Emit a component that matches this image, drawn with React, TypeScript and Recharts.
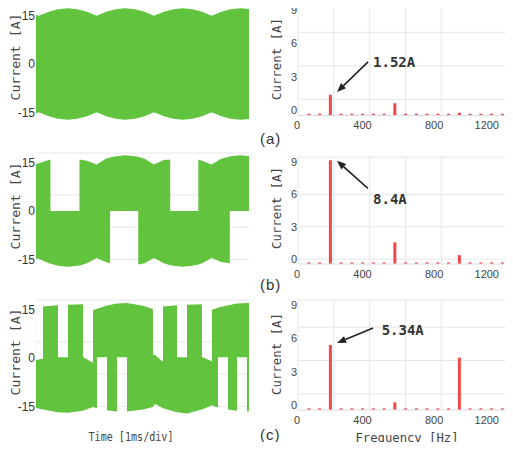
import React from 'react';
import {
  AreaChart,
  Area,
  ComposedChart,
  Bar,
  XAxis,
  YAxis,
  CartesianGrid,
  ReferenceLine,
  ReferenceDot,
} from 'recharts';

const GREEN = '#62c43e';
const RED = '#ee4a4a';
const GRID = '#e6e6e6';
const MONO = '"DejaVu Sans Mono", monospace';
const SANS = '"Liberation Sans", Arial, sans-serif';

// phase current: time [ms], lower envelope [A], upper envelope [A]
const waveA = [
  [0, -15.3, 15.3], [0.07, -15, 15], [0.3, -16.2, 16.2], [0.52, -17, 17], [0.745, -17.3, 17.3],
  [0.97, -17, 17], [1.2, -16.2, 16.2], [1.42, -15, 15], [1.65, -16.2, 16.2], [1.87, -17, 17],
  [2.095, -17.3, 17.3], [2.32, -17, 17], [2.55, -16.2, 16.2], [2.77, -15, 15], [3.0, -16.2, 16.2],
  [3.22, -17, 17], [3.445, -17.3, 17.3], [3.67, -17, 17], [3.9, -16.2, 16.2], [4.12, -15, 15],
  [4.35, -16.2, 16.2], [4.57, -17, 17], [4.795, -17.3, 17.3], [5.0, -17.1, 17.1],
];

const waveB = [
  [0, -14.8, 14.6], [0.07, -14.8, 14.8], [0.3, -16.2, 15.8], [0.34, -16.4, 16.0],
  [0.34, -16.4, 0], [0.52, -17, 0], [0.745, -17.3, 0], [0.97, -17, 0], [1.02, -16.9, 0],
  [1.02, -16.9, 16.0], [1.2, -16.2, 15.6], [1.42, -14.6, 14.4], [1.64, -15.8, 16.2], [1.74, -16.2, 16.6],
  [1.74, 0, 16.6], [1.87, 0, 17], [2.095, 0, 17.3], [2.32, 0, 17], [2.4, 0, 16.8],
  [2.4, -16.6, 16.8], [2.55, -16.2, 16.2], [2.77, -14.6, 14.4], [3.0, -16.2, 15.8], [3.15, -16.8, 16.0],
  [3.15, -16.8, 0], [3.22, -17, 0], [3.445, -17.3, 0], [3.67, -17, 0], [3.81, -16.6, 0],
  [3.81, -16.6, 16.0], [3.9, -16.2, 15.6], [4.12, -14.6, 14.4], [4.35, -15.8, 16.2], [4.55, -16.2, 16.9],
  [4.55, 0, 16.9], [4.57, 0, 17], [4.795, 0, 17.3], [5.0, 0, 17.1],
];

const waveC = [
  [0, -15.5, -0.6], [0.164, -16.0, -0.2],
  [0.164, -16.0, 16.0], [0.516, -16.8, 16.4], [0.516, -16.8, 0.2], [0.751, -17.0, 0.2],
  [0.751, -17.0, 16.5], [1.103, -16.4, 16.7], [1.103, -16.4, 0.3], [1.338, -15.2, -1.5],
  [1.338, -15.2, 14.8], [1.432, -15.6, 15.3], [1.432, 0.2, 15.3], [1.667, 0.2, 16.3],
  [1.667, -16.2, 16.3], [1.901, -16.6, 16.9], [1.901, 0.2, 16.9], [2.136, 0.2, 17.1],
  [2.136, -16.6, 17.1], [2.512, -16.0, 16.2], [2.746, -15.2, 15.2], [2.746, -15.2, 1.0],
  [2.793, -14.3, 0.9], [2.981, -15.6, -1.2],
  [2.981, -15.6, 16.0], [3.31, -16.8, 16.4], [3.31, -16.8, 0.2], [3.545, -17.2, 0.2],
  [3.545, -17.2, 16.5], [3.897, -16.0, 16.7], [3.897, -16.0, 0.3], [4.131, -14.7, -1.0],
  [4.131, -14.7, 15.0], [4.272, -15.4, 15.6], [4.272, 0.2, 15.6], [4.507, 0.2, 16.4],
  [4.507, -16.0, 16.4], [4.718, -16.4, 16.9], [4.718, 0.2, 16.9], [4.953, 0.2, 17.1],
  [4.953, -16.5, 17.1], [5.0, -16.5, 17.1],
];

// spectrum: harmonic frequency [Hz] and amplitude [A]
const freqs = [60, 120, 180, 240, 300, 360, 420, 480, 540, 600, 660, 720, 780, 840, 900, 960, 1020, 1080, 1140, 1200];
const ampA = [-0.3, -0.3, 1.4, -0.3, -0.3, -0.3, -0.3, -0.3, 0.65, -0.3, -0.3, -0.3, -0.3, -0.3, -0.2, -0.3, -0.3, -0.3, -0.3, -0.3];
const ampB = [-0.3, -0.3, 9.15, -0.3, -0.3, -0.3, -0.3, -0.3, 1.55, -0.3, -0.3, -0.3, -0.3, -0.3, 0.37, -0.3, -0.3, -0.3, -0.3, -0.3];
const ampC = [-0.3, -0.3, 5.4, -0.3, -0.3, -0.3, -0.3, -0.3, 0.24, -0.3, -0.3, -0.3, -0.3, -0.3, 4.26, -0.3, -0.3, -0.3, -0.3, -0.3];
const AMP_FLOOR = -0.45;

const timeGrid = [0, 0.5, 1, 1.5, 2, 2.5, 3, 3.5, 4, 4.5, 5];
const currentTicks = [-15, 0, 15];
const currentGrid = [-18, -15, -10, -5, 0, 5, 10, 15, 18];
const freqTicks = [0, 400, 800, 1200];
const freqGrid = [0, 200, 400, 600, 800, 1000, 1200];
const ampTicks = [0, 3, 6, 9];
const ampGrid = [-0.45, 0, 1, 2, 3, 4, 5, 6, 7, 8, 9, 9.45];

// callouts: text, arrow tail, arrow head, text anchor ([Hz, A])
const notesA = { text: '1.52A', tail: [391, 4.35], head: [218, 1.66], at: [419, 4.35] };
const notesB = { text: '8.4A', tail: [390, 6.54], head: [218, 9.1], at: [419, 5.6] };
const notesC = { text: '5.34A', tail: [419, 6.93], head: [218, 5.58], at: [467, 6.75] };

const Arrow = (p: any) => {
  const { x1, y1, x2, y2 } = p;
  const dx = x2 - x1;
  const dy = y2 - y1;
  const len = Math.hypot(dx, dy) || 1;
  const ux = dx / len;
  const uy = dy / len;
  const bx = x2 - ux * 9;
  const by = y2 - uy * 9;
  return (
    <g>
      <line x1={x1} y1={y1} x2={bx} y2={by} stroke="#222" strokeWidth={1.6} />
      <polygon
        points={`${x2},${y2} ${bx - uy * 3.6},${by + ux * 3.6} ${bx + uy * 3.6},${by - ux * 3.6}`}
        fill="#222"
      />
    </g>
  );
};

const FreqTick = (p: any) => (
  <text x={p.x + 2} y={p.y} dy="0.71em" textAnchor="end" fontSize={11} fontFamily={SANS} fill="#444">
    {p.payload.value}
  </text>
);

const WavePanel = ({ rows, top }: { rows: number[][]; top: number }) => {
  const data = rows.map(([t, lo, hi]) => ({ t, band: [lo, hi] }));
  return (
    <div style={{ position: 'absolute', left: 0, top: top - 5 }}>
      <AreaChart width={252} height={126} data={data} margin={{ top: 5, right: 3, bottom: 4, left: 0 }}>
        <CartesianGrid stroke={GRID} horizontalValues={currentGrid} verticalValues={timeGrid} />
        <XAxis type="number" dataKey="t" domain={[0, 5]} ticks={timeGrid} tick={false} tickLine={false} axisLine={false} height={1} />
        <YAxis
          type="number"
          domain={[-18, 18]}
          ticks={currentTicks}
          width={36}
          tickSize={0}
          tickMargin={1}
          axisLine={false}
          tick={{ fontSize: 12, fontFamily: SANS, fill: '#333' }}
        />
        <Area type="linear" dataKey="band" stroke="none" fill={GREEN} fillOpacity={1} isAnimationActive={false} />
      </AreaChart>
    </div>
  );
};

const SpectrumPanel = ({ amps, top, plotHeight, note }: { amps: number[]; top: number; plotHeight: number; note: any }) => {
  const data = freqs.map((f, i) => ({ f, range: [AMP_FLOOR, amps[i]] }));
  return (
    <div style={{ position: 'absolute', left: 250, top: top - 5 }}>
      <ComposedChart width={263} height={plotHeight + 27} data={data} margin={{ top: 5, right: 0, bottom: 0, left: 0 }}>
        <CartesianGrid stroke={GRID} horizontalValues={ampGrid} verticalValues={freqGrid} />
        <XAxis
          type="number"
          dataKey="f"
          domain={[0, 1200]}
          ticks={freqTicks}
          height={22}
          tickSize={0}
          tickMargin={6}
          axisLine={{ stroke: '#dcdcdc' }}
          tick={<FreqTick />}
          allowDataOverflow
        />
        <YAxis
          type="number"
          domain={[AMP_FLOOR, 9.45]}
          ticks={ampTicks}
          width={48}
          tickSize={0}
          tickMargin={1}
          axisLine={false}
          allowDataOverflow
          tick={{ fontSize: 11, fontFamily: SANS, fill: '#444' }}
        />
        <Bar dataKey="range" barSize={3} fill={RED} isAnimationActive={false} />
        <ReferenceLine
          segment={[
            { x: note.tail[0], y: note.tail[1] },
            { x: note.head[0], y: note.head[1] },
          ]}
          shape={<Arrow />}
        />
        <ReferenceDot
          x={note.at[0]}
          y={note.at[1]}
          r={0}
          fill="none"
          stroke="none"
          label={{
            value: note.text,
            position: 'right',
            offset: 0,
            fill: '#333',
            fontSize: 14,
            fontWeight: 'bold',
            fontFamily: MONO,
          }}
        />
      </ComposedChart>
    </div>
  );
};

const titleStyle = { fontFamily: MONO, fill: '#444' } as const;

export default function App() {
  return (
    <div style={{ position: 'relative', width: 513, height: 450, margin: -8, background: '#fff', overflow: 'hidden' }}>
      <WavePanel rows={waveA} top={6} />
      <WavePanel rows={waveB} top={153} />
      <WavePanel rows={waveC} top={300} />
      <SpectrumPanel amps={ampA} top={5} plotHeight={110.5} note={notesA} />
      <SpectrumPanel amps={ampB} top={156.5} plotHeight={107} note={notesB} />
      <SpectrumPanel amps={ampC} top={300} plotHeight={110} note={notesC} />
      <svg width={513} height={450} style={{ position: 'absolute', left: 0, top: 0, pointerEvents: 'none' }}>
        {[57, 206, 352].map((cy) => (
          <text key={`l${cy}`} x={0} y={0} transform={`translate(20,${cy}) rotate(-90)`} textAnchor="middle" fontSize={12.5} textLength={87} lengthAdjust="spacingAndGlyphs" {...titleStyle}>
            Current [A]
          </text>
        ))}
        {[59, 208, 354].map((cy) => (
          <text key={`r${cy}`} x={0} y={0} transform={`translate(281,${cy}) rotate(-90)`} textAnchor="middle" fontSize={12} textLength={82} lengthAdjust="spacingAndGlyphs" {...titleStyle}>
            Current [A]
          </text>
        ))}
        <text x={131} y={441} textAnchor="middle" fontSize={13} textLength={85} lengthAdjust="spacingAndGlyphs" {...titleStyle}>
          Time [1ms/div]
        </text>
        <text x={407} y={442} textAnchor="middle" fontSize={13} textLength={103} lengthAdjust="spacingAndGlyphs" {...titleStyle}>
          Frequency [Hz]
        </text>
        {[
          ['(a)', 144],
          ['(b)', 290],
          ['(c)', 440],
        ].map(([s, y]) => (
          <text key={s as string} x={260} y={y as number} fontSize={15} letterSpacing={1} fontFamily={SANS} fill="#333">
            {s}
          </text>
        ))}
      </svg>
    </div>
  );
}
